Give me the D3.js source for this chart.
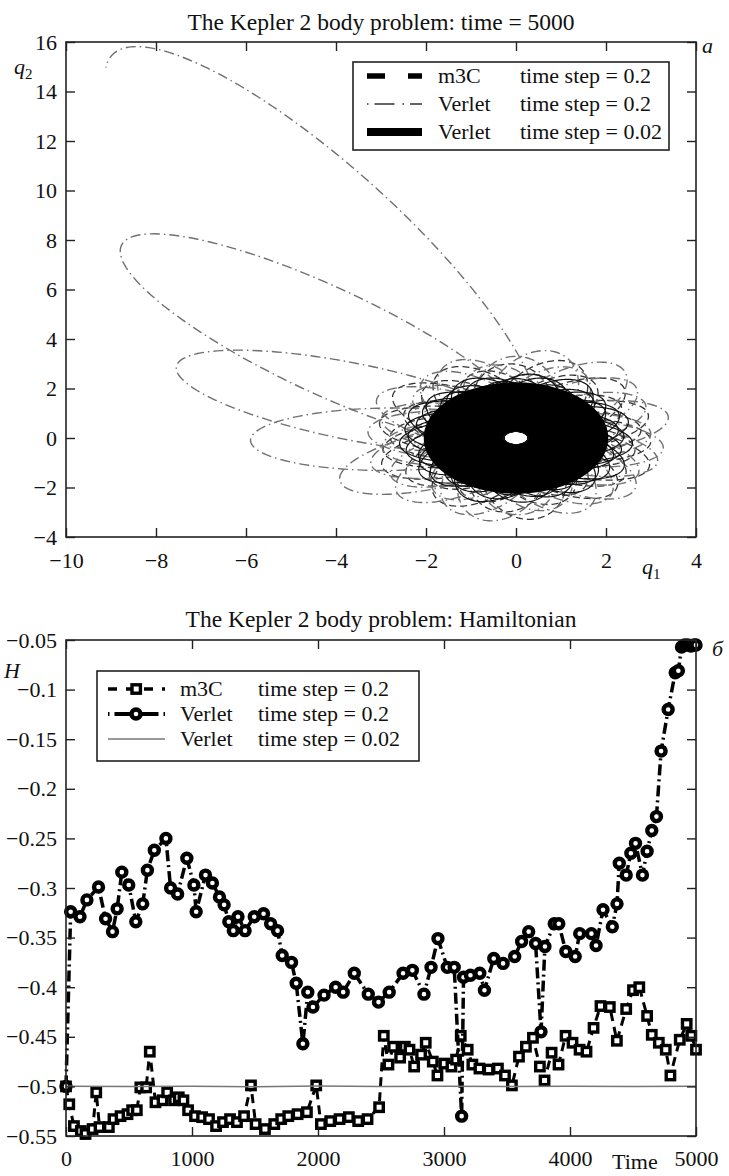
<!DOCTYPE html>
<html>
<head>
<meta charset="utf-8">
<script src="https://cdn.jsdelivr.net/npm/d3@7"></script>
<style>
  body { margin: 0; background: #fff; }
  svg { display: block; }
  text { font-family: "Liberation Serif", "Times New Roman", serif; }
</style>
</head>
<body>
<svg id="chart" width="729" height="1176"></svg>
<script>
// ---------- panel a: orbits in the (q1, q2) plane ----------
const q1Ticks = [-10, -8, -6, -4, -2, 0, 2, 4]
const q2Ticks = [-4, -2, 0, 2, 4, 6, 8, 10, 12, 14, 16]
const perihelion = 0.27
// Verlet dt = 0.02: swept region (half widths along q1, q2) and the hole at the centre
const fineOuter = [2.05, 2.25]
const fineHole = [0.3, 0.27]
// orbits on the ragged edge of the swept region: aphelion distance, direction (deg)
const fineEdgeQ = [2.4, 2.3, 2.6, 2.5, 2.3, 2.5, 2.4, 2.7, 2.3, 2.5, 2.6, 2.4, 2.3, 2.5, 2.6, 2.4, 2.3, 2.5, 2.4, 2.6, 2.3, 2.5, 2.4, 2.6, 2.5, 2.3, 2.4, 2.6, 2.5, 2.3, 2.4, 2.7, 2.5, 2.3, 2.6, 2.4, 2.5, 2.3, 2.6, 2.4, 2.5, 2.7, 2.3, 2.4, 2.6]
const fineEdgeDir = [2, 10, 18, 26, 34, 42, 50, 58, 66, 74, 82, 90, 98, 106, 114, 122, 130, 138, 146, 154, 162, 170, 178, 186, 194, 202, 210, 218, 226, 234, 242, 250, 258, 266, 274, 282, 290, 298, 306, 314, 322, 330, 338, 346, 354]
// m3C dt = 0.2
const m3cQ = [2.8, 3.1, 2.7, 3.2, 2.9, 3.3, 2.6, 3.0, 2.8, 3.2, 2.9, 3.3, 2.7, 3.1, 2.8, 3.0, 3.2, 2.9, 2.6, 3.1, 2.7, 3.0, 3.3, 2.8, 2.6, 3.1, 2.9, 3.2, 2.7, 3.0]
const m3cDir = [8, 20, 33, 45, 58, 70, 81, 93, 106, 118, 131, 143, 155, 167, 179, 191, 203, 216, 228, 240, 252, 264, 276, 288, 300, 312, 324, 336, 347, 357]
// Verlet dt = 0.2: inner orbits, the growing outer loops, and the last part loop
const verletInnerQ = [3.3, 3.0, 3.5, 3.2, 3.4, 3.7, 3.1, 3.6, 3.3, 3.0, 3.4, 3.2, 2.9, 3.5, 3.1, 3.3, 3.0, 3.4, 3.2, 3.5, 2.9, 3.3, 3.4, 3.1, 3.0, 3.3, 3.2, 3.4, 3.1, 3.3]
const verletInnerDir = [352, 4, 16, 28, 41, 53, 66, 78, 90, 101, 113, 126, 138, 150, 163, 175, 188, 200, 212, 224, 236, 248, 259, 271, 283, 295, 307, 318, 329, 341]
const verletOuterQ = [4.3, 5.9, 8.1, 11.8]
const verletOuterDir = [206, 181, 158, 137]
const verletLast = [18.0, 119, 0.33] // aphelion, direction, end anomaly

// ---------- panel б: Hamiltonian vs time ----------
const timeTicks = [0, 1000, 2000, 3000, 4000, 5000]
const hTicks = [-0.55, -0.5, -0.45, -0.4, -0.35, -0.3, -0.25, -0.2, -0.15, -0.1, -0.05]
const m3cTime = [0, 26, 63, 118, 155, 211, 240, 266, 340, 377, 433, 488, 525, 562, 590, 636, 665, 710, 766, 803, 858, 895, 932, 969, 1024, 1080, 1135, 1191, 1246, 1302, 1357, 1413, 1468, 1505, 1579, 1653, 1708, 1764, 1838, 1912, 1986, 2023, 2097, 2171, 2245, 2319, 2393, 2485, 2522, 2559, 2596, 2652, 2689, 2726, 2763, 2818, 2855, 2911, 2948, 3003, 3059, 3096, 3133, 3188, 3225, 3281, 3354, 3428, 3484, 3539, 3595, 3650, 3706, 3761, 3798, 3854, 3909, 3965, 4020, 4076, 4131, 4187, 4242, 4316, 4372, 4446, 4500, 4550, 4612, 4649, 4705, 4760, 4797, 4871, 4926, 4963, 5000]
const m3cH = [-0.500, -0.518, -0.540, -0.545, -0.548, -0.543, -0.506, -0.541, -0.541, -0.533, -0.530, -0.528, -0.524, -0.524, -0.501, -0.501, -0.465, -0.516, -0.514, -0.506, -0.514, -0.511, -0.514, -0.524, -0.530, -0.531, -0.533, -0.540, -0.536, -0.533, -0.536, -0.530, -0.499, -0.538, -0.543, -0.538, -0.533, -0.530, -0.528, -0.526, -0.499, -0.538, -0.535, -0.533, -0.531, -0.535, -0.533, -0.521, -0.449, -0.478, -0.460, -0.471, -0.460, -0.463, -0.480, -0.468, -0.456, -0.475, -0.489, -0.477, -0.480, -0.473, -0.449, -0.463, -0.478, -0.482, -0.483, -0.482, -0.489, -0.499, -0.470, -0.460, -0.451, -0.480, -0.494, -0.466, -0.478, -0.449, -0.456, -0.463, -0.465, -0.441, -0.419, -0.420, -0.454, -0.422, -0.403, -0.400, -0.429, -0.448, -0.456, -0.463, -0.489, -0.453, -0.437, -0.449, -0.463]
const verletTime = [0, 37, 111, 166, 258, 314, 369, 406, 443, 498, 554, 609, 646, 701, 793, 830, 886, 959, 1015, 1033, 1107, 1162, 1218, 1255, 1292, 1328, 1365, 1421, 1494, 1568, 1624, 1679, 1716, 1790, 1827, 1880, 1919, 1960, 2048, 2140, 2200, 2288, 2399, 2480, 2565, 2675, 2749, 2841, 2897, 2952, 3026, 3081, 3140, 3155, 3210, 3284, 3321, 3395, 3469, 3561, 3616, 3672, 3727, 3770, 3801, 3875, 3911, 3967, 4041, 4077, 4170, 4207, 4262, 4336, 4373, 4391, 4446, 4483, 4520, 4575, 4612, 4649, 4686, 4723, 4779, 4835, 4860, 4885, 4910, 4935, 4960, 4985, 5000]
const verletH = [-0.500, -0.324, -0.329, -0.312, -0.299, -0.331, -0.344, -0.321, -0.284, -0.297, -0.334, -0.316, -0.282, -0.262, -0.250, -0.300, -0.306, -0.270, -0.297, -0.324, -0.287, -0.295, -0.309, -0.317, -0.334, -0.343, -0.329, -0.343, -0.329, -0.326, -0.336, -0.343, -0.368, -0.375, -0.396, -0.457, -0.405, -0.420, -0.408, -0.400, -0.405, -0.386, -0.407, -0.415, -0.405, -0.386, -0.383, -0.407, -0.380, -0.351, -0.380, -0.380, -0.530, -0.390, -0.388, -0.386, -0.403, -0.371, -0.376, -0.369, -0.354, -0.344, -0.356, -0.445, -0.359, -0.336, -0.336, -0.364, -0.369, -0.346, -0.346, -0.358, -0.322, -0.339, -0.316, -0.275, -0.287, -0.265, -0.255, -0.287, -0.263, -0.242, -0.228, -0.162, -0.120, -0.083, -0.081, -0.057, -0.055, -0.055, -0.056, -0.055, -0.055]
const fineTime = [0, 500, 1000, 1500, 2000, 2500, 3000, 3500, 4000, 4500, 5000]
const fineH = [-0.4998, -0.5002, -0.4999, -0.5003, -0.4997, -0.5001, -0.4998, -0.5002, -0.4999, -0.5001, -0.4999]

const legendNames = ['m3C', 'Verlet', 'Verlet']
const legendSteps = ['time step = 0.2', 'time step = 0.2', 'time step = 0.02']

// ---------- drawing ----------
const svg = d3.select('#chart')
const FONT = 22
const SERIF = '"Liberation Serif", "Times New Roman", serif'

const xTop = d3.scaleLinear().domain([-10, 4]).range([66, 696])
const yTop = d3.scaleLinear().domain([-4, 16]).range([537, 42])
const xBot = d3.scaleLinear().domain([0, 5000]).range([66, 696])
const yBot = d3.scaleLinear().domain([-0.55, -0.05]).range([1136, 640])

const minus = s => s.replace('-', '\u2212')

function keplerLoop (Q, dirDeg, e0 = -Math.PI, e1 = Math.PI) {
  const q = perihelion
  const a = (Q + q) / 2
  const c = (Q - q) / 2
  const b = Math.sqrt(Q * q)
  const th = dirDeg * Math.PI / 180
  const ux = Math.cos(th)
  const uy = Math.sin(th)
  const n = 160
  return d3.range(n + 1).map(i => {
    const E = e0 + (e1 - e0) * i / n
    const p = a * Math.cos(E)
    const s = b * Math.sin(E)
    return [c * ux + p * ux - s * uy, c * uy + p * uy + s * ux]
  })
}

function ellipsePts (rx, ry) {
  return d3.range(0, 360, 3).map(d => [rx * Math.cos(d * Math.PI / 180), ry * Math.sin(d * Math.PI / 180)])
}

function label (x, y, txt, opts = {}) {
  return svg.append('text').attr('x', x).attr('y', y)
    .attr('font-family', SERIF).attr('font-size', opts.size || FONT)
    .attr('font-style', opts.italic ? 'italic' : 'normal')
    .attr('text-anchor', opts.anchor || 'start').attr('fill', '#111').text(txt)
}

function frame (x, y, xt, yt, xfmt, yfmt, pad) {
  const g = svg.append('g')
  const [x0, x1] = x.range()
  const [y0, y1] = y.range()
  g.append('g').attr('transform', `translate(0,${y0})`)
    .call(d3.axisBottom(x).tickValues(xt).tickSize(-9).tickSizeOuter(0).tickPadding(pad).tickFormat(xfmt))
  g.append('g').attr('transform', `translate(0,${y1})`)
    .call(d3.axisTop(x).tickValues(xt).tickSize(-9).tickSizeOuter(0).tickFormat(''))
  g.append('g').attr('transform', `translate(${x0},0)`)
    .call(d3.axisLeft(y).tickValues(yt).tickSize(-9).tickSizeOuter(0).tickPadding(9).tickFormat(yfmt))
  g.append('g').attr('transform', `translate(${x1},0)`)
    .call(d3.axisRight(y).tickValues(yt).tickSize(-9).tickSizeOuter(0).tickFormat(''))
  g.selectAll('g').attr('font-family', SERIF)
  g.selectAll('.domain').remove()
  g.selectAll('.tick line').attr('stroke', '#222').attr('stroke-width', 1.4)
  g.selectAll('.tick text').attr('font-size', FONT).attr('font-family', SERIF).attr('fill', '#111')
  g.append('rect').attr('x', x0).attr('y', y1).attr('width', x1 - x0).attr('height', y0 - y1)
    .attr('fill', 'none').attr('stroke', '#222').attr('stroke-width', 1.6)
  return g
}

// ----- panel a -----
svg.append('clipPath').attr('id', 'clipTop').append('rect')
  .attr('x', 66).attr('y', 42).attr('width', 630).attr('height', 495)
const plotA = svg.append('g').attr('clip-path', 'url(#clipTop)')
const lineA = d3.line().x(d => xTop(d[0])).y(d => yTop(d[1]))

plotA.selectAll('path.m3c').data(m3cQ.map((Q, i) => keplerLoop(Q, m3cDir[i])))
  .join('path').attr('class', 'm3c').attr('d', lineA)
  .attr('fill', 'none').attr('stroke', '#333').attr('stroke-width', 1.3).attr('stroke-dasharray', '7,4')

const verletLoops = verletInnerQ.map((Q, i) => keplerLoop(Q, verletInnerDir[i]))
  .concat(verletOuterQ.map((Q, i) => keplerLoop(Q, verletOuterDir[i])))
  .concat([keplerLoop(verletLast[0], verletLast[1], -Math.PI, verletLast[2])])
plotA.selectAll('path.verlet').data(verletLoops)
  .join('path').attr('class', 'verlet').attr('d', lineA)
  .attr('fill', 'none').attr('stroke', '#707070').attr('stroke-width', 1.4).attr('stroke-dasharray', '10,4,1.5,4')

plotA.selectAll('path.fine').data(fineEdgeQ.map((Q, i) => keplerLoop(Q, fineEdgeDir[i])))
  .join('path').attr('class', 'fine').attr('d', lineA)
  .attr('fill', 'none').attr('stroke', '#111').attr('stroke-width', 1.2)

const ring = d3.line().x(d => xTop(d[0])).y(d => yTop(d[1])).curve(d3.curveLinearClosed)
plotA.append('path')
  .attr('d', ring(ellipsePts(fineOuter[0], fineOuter[1])) + ring(ellipsePts(fineHole[0], fineHole[1])))
  .attr('fill', '#000').attr('fill-rule', 'evenodd')

frame(xTop, yTop, q1Ticks, q2Ticks, d => minus(String(d)), d => minus(String(d)), 15)

label(381, 30, 'The Kepler 2 body problem: time = 5000', { anchor: 'middle', size: 23.5 })
const q2lab = label(14, 74, 'q', { italic: true })
q2lab.append('tspan').attr('font-size', 15).attr('font-style', 'normal').attr('dy', 5).text('2')
const q1lab = label(642, 574, 'q', { italic: true })
q1lab.append('tspan').attr('font-size', 15).attr('font-style', 'normal').attr('dy', 5).text('1')
label(702, 53, 'a', { italic: true })

// legend a
const legA = svg.append('g')
legA.append('rect').attr('x', 353).attr('y', 62).attr('width', 316).attr('height', 88)
  .attr('fill', '#fff').attr('stroke', '#222').attr('stroke-width', 1.6)
const legAStyles = [
  { w: 5.5, dash: '18,23', color: '#000' },
  { w: 1.5, dash: '1.5,6,20,8', color: '#333' },
  { w: 8, dash: null, color: '#000' }
]
legendNames.forEach((name, i) => {
  const y = 76 + i * 28
  legA.append('line').attr('x1', 367).attr('x2', 422).attr('y1', y).attr('y2', y)
    .attr('stroke', legAStyles[i].color).attr('stroke-width', legAStyles[i].w)
    .attr('stroke-dasharray', legAStyles[i].dash)
  label(438, y + 7, name)
  label(520, y + 7, legendSteps[i])
})

// ----- panel б -----
const plotB = svg.append('g')
const lineB = d3.line().x(d => xBot(d[0])).y(d => yBot(d[1]))
const m3cPts = m3cTime.map((t, i) => [t, m3cH[i]])
const verletPts = verletTime.map((t, i) => [t, verletH[i]])
const finePts = fineTime.map((t, i) => [t, fineH[i]])

plotB.append('path').datum(m3cPts).attr('d', lineB)
  .attr('fill', 'none').attr('stroke', '#000').attr('stroke-width', 3).attr('stroke-dasharray', '9,6')
plotB.selectAll('rect.m3c').data(m3cPts).join('rect').attr('class', 'm3c')
  .attr('x', d => xBot(d[0]) - 4.2).attr('y', d => yBot(d[1]) - 4.2).attr('width', 8.4).attr('height', 8.4)
  .attr('fill', '#fff').attr('stroke', '#000').attr('stroke-width', 3.4)

plotB.append('path').datum(verletPts).attr('d', lineB)
  .attr('fill', 'none').attr('stroke', '#000').attr('stroke-width', 3.5).attr('stroke-dasharray', '11,4,2,4')
plotB.selectAll('circle.verlet').data(verletPts).join('circle').attr('class', 'verlet')
  .attr('cx', d => xBot(d[0])).attr('cy', d => yBot(d[1])).attr('r', 4.5)
  .attr('fill', '#fff').attr('stroke', '#000').attr('stroke-width', 4.4)

plotB.append('path').datum(finePts).attr('d', lineB)
  .attr('fill', 'none').attr('stroke', '#777').attr('stroke-width', 1.5)

frame(xBot, yBot, timeTicks, hTicks, d => String(d), d => minus(String(+d.toFixed(2))), 14)

label(381, 627, 'The Kepler 2 body problem: Hamiltonian', { anchor: 'middle', size: 23.5 })
label(4, 678, 'H', { italic: true })
label(712, 656, 'б', { italic: true })
label(612, 1169, 'Time')

// legend б
const legB = svg.append('g')
legB.append('rect').attr('x', 97).attr('y', 671).attr('width', 322).attr('height', 90)
  .attr('fill', '#fff').attr('stroke', '#222').attr('stroke-width', 1.6)
legendNames.forEach((name, i) => {
  const y = 689 + i * 25
  const ln = legB.append('line').attr('x1', 108).attr('x2', 165).attr('y1', y).attr('y2', y)
  if (i === 0) ln.attr('stroke', '#000').attr('stroke-width', 3.5).attr('stroke-dasharray', '9,9')
  if (i === 1) ln.attr('stroke', '#000').attr('stroke-width', 4).attr('stroke-dasharray', '1.5,5,44,5')
  if (i === 2) ln.attr('stroke', '#777').attr('stroke-width', 1.5)
  if (i === 0) {
    legB.append('rect').attr('x', 132).attr('y', y - 4.2).attr('width', 8.4).attr('height', 8.4)
      .attr('fill', '#fff').attr('stroke', '#000').attr('stroke-width', 3.4)
  }
  if (i === 1) {
    legB.append('circle').attr('cx', 136).attr('cy', y).attr('r', 4.5)
      .attr('fill', '#fff').attr('stroke', '#000').attr('stroke-width', 4.4)
  }
  label(180, y + 7, name)
  label(258, y + 7, legendSteps[i])
})
</script>
</body>
</html>
